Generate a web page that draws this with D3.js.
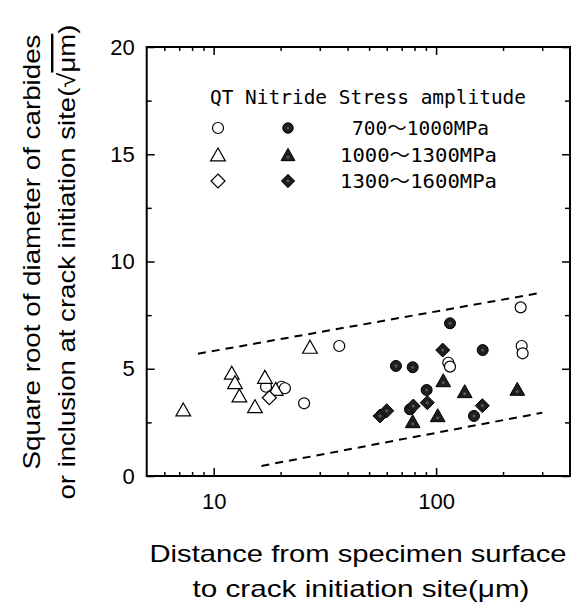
<!DOCTYPE html>
<html><head><meta charset="utf-8">
<script src="https://cdn.jsdelivr.net/npm/d3@7"></script>
<style>body{margin:0;background:#fff}svg{display:block}</style>
</head><body><svg id="c" width="584" height="612"></svg>
<script>
// ---- data ----
const qtCircle = [[17.2,4.16],[20.2,4.16],[20.9,4.09],[25.5,3.39],[36.7,6.06],[113.5,5.28],[115.5,5.1],[240,7.86],[242.6,6.06],[245,5.72]];
const qtTriangle = [[7.3,3.08],[12.06,4.79],[12.47,4.35],[13.05,3.73],[15.34,3.23],[17.0,4.6],[19.0,4.04],[27.1,6.0]];
const qtDiamond = [[17.8,3.65]];
const nitCircle = [[66,5.13],[78.5,5.07],[90.7,4.01],[115.5,7.12],[162,5.87],[76.3,3.11],[148,2.8]];
const nitTriangle = [[78.5,2.53],[101.7,2.81],[107.7,4.44],[134.5,3.93],[231.8,4.04]];
const nitDiamond = [[56,2.8],[60,3.04],[79,3.26],[91.3,3.42],[107.1,5.87],[161.4,3.28]];
const upperBound = [[8.5,5.7],[300,8.55]];
const lowerBound = [[16.4,0.47],[300,2.95]];
const xMajor = [10,100];
const xMinor = [6,7,8,9,20,30,40,50,60,70,80,90,200,300];
const yMajor = [0,5,10,15,20];
const yMinor = [2.5,7.5,12.5,17.5];
const legendRanges = ["700～1000MPa","1000～1300MPa","1300～1600MPa"];

const svg = d3.select("#c");
const L=146.7, R=570, T=47, B=476;
const x = d3.scaleLog().domain([5,400]).range([L,R]);
const y = d3.scaleLinear().domain([0,20]).range([B,T]);

// dashed bounds
const line = d3.line().x(d=>x(d[0])).y(d=>y(d[1]));
[upperBound,lowerBound].forEach(b=>{
  svg.append("path").attr("d",line(b)).attr("fill","none").attr("stroke","#000")
    .attr("stroke-width",2).attr("stroke-dasharray","8,6");
});

// axes (inward ticks)
const gB = svg.append("g").attr("transform",`translate(0,${B})`);
gB.call(d3.axisBottom(x).tickValues(xMajor).tickFormat(d3.format("d")).tickSizeInner(-8).tickSizeOuter(0).tickPadding(17));
const gBm = svg.append("g").attr("transform",`translate(0,${B})`);
gBm.call(d3.axisBottom(x).tickValues(xMinor).tickFormat("").tickSizeInner(-4).tickSizeOuter(0));
const gT = svg.append("g").attr("transform",`translate(0,${T})`);
gT.call(d3.axisTop(x).tickValues(xMajor).tickFormat("").tickSizeInner(-8).tickSizeOuter(0));
const gTm = svg.append("g").attr("transform",`translate(0,${T})`);
gTm.call(d3.axisTop(x).tickValues(xMinor).tickFormat("").tickSizeInner(-4).tickSizeOuter(0));
const gL = svg.append("g").attr("transform",`translate(${L},0)`);
gL.call(d3.axisLeft(y).tickValues(yMajor).tickSizeInner(-8).tickSizeOuter(0).tickPadding(12));
const gLm = svg.append("g").attr("transform",`translate(${L},0)`);
gLm.call(d3.axisLeft(y).tickValues(yMinor).tickFormat("").tickSizeInner(-5).tickSizeOuter(0));
const gR = svg.append("g").attr("transform",`translate(${R},0)`);
gR.call(d3.axisRight(y).tickValues(yMajor).tickFormat("").tickSizeInner(-8).tickSizeOuter(0));
const gRm = svg.append("g").attr("transform",`translate(${R},0)`);
gRm.call(d3.axisRight(y).tickValues(yMinor).tickFormat("").tickSizeInner(-5).tickSizeOuter(0));
svg.selectAll(".domain").remove();
svg.selectAll(".tick line").attr("stroke","#000").attr("stroke-width",1.5);
svg.selectAll(".tick text").attr("font-family","Liberation Sans, Arial, sans-serif").attr("font-size",22).attr("fill","#000");
svg.append("rect").attr("x",L).attr("y",T).attr("width",R-L).attr("height",B-T)
  .attr("fill","none").attr("stroke","#000").attr("stroke-width",2);

// markers
function shape(g, type, cx, cy, filled, s){
  s = s||1;
  let el;
  if(type==="c"){
    el = g.append("circle").attr("cx",cx).attr("cy",cy).attr("r",5.5*s);
  } else if(type==="t"){
    const h=7*s;
    el = g.append("path").attr("d",`M${cx},${cy-h}L${cx+h*1.05},${cy+h*0.85}L${cx-h*1.05},${cy+h*0.85}Z`);
  } else {
    const h=7*s;
    el = g.append("path").attr("d",`M${cx},${cy-h}L${cx+h},${cy}L${cx},${cy+h}L${cx-h},${cy}Z`);
  }
  el.attr("fill",filled?"#1e1e1e":"#fff").attr("stroke","#000").attr("stroke-width",filled?1:1.2);
  if(filled){
    g.append("circle").attr("cx",cx).attr("cy",cy+(type==="t"?2:0)).attr("r",1.6*s).attr("fill","#555");
  }
}
const gp = svg.append("g");
[[qtCircle,"c",false],[qtTriangle,"t",false],[qtDiamond,"d",false],
 [nitCircle,"c",true],[nitTriangle,"t",true],[nitDiamond,"d",true]].forEach(([arr,t,f])=>{
  arr.forEach(d=>shape(gp,t,x(d[0]),y(d[1]),f));
});

// legend
const mono = "DejaVu Sans Mono, Noto Sans CJK JP, monospace";
svg.append("text").attr("x",210).attr("y",104).attr("font-family",mono).attr("font-size",19)
  .attr("textLength",316).attr("lengthAdjust","spacingAndGlyphs").text("QT Nitride Stress amplitude");
const rowsY=[128,155,181];
const types=["c","t","d"];
legendRanges.forEach((t,i)=>{
  shape(svg,types[i],218,rowsY[i],false);
  shape(svg,types[i],288,rowsY[i],true,0.95);
  const x0 = i===0?352:340, w = i===0?137:157;
  svg.append("text").attr("x",x0).attr("y",rowsY[i]+7).attr("font-family",mono).attr("font-size",19)
    .attr("textLength",w).attr("lengthAdjust","spacingAndGlyphs").text(t);
});

// axis titles
const sans="Liberation Sans, Arial, sans-serif";
svg.append("text").attr("x",358).attr("y",562).attr("text-anchor","middle").attr("font-family",sans)
  .attr("font-size",24).attr("textLength",417).attr("lengthAdjust","spacingAndGlyphs").text("Distance from specimen surface");
svg.append("text").attr("x",361).attr("y",597).attr("text-anchor","middle").attr("font-family",sans)
  .attr("font-size",24).attr("textLength",337).attr("lengthAdjust","spacingAndGlyphs").text("to crack initiation site(μm)");

svg.append("text").attr("transform","translate(40,252) rotate(-90)").attr("text-anchor","middle")
  .attr("font-family",sans).attr("font-size",24).attr("textLength",435).attr("lengthAdjust","spacingAndGlyphs")
  .text("Square root of diameter of carbides");
const t2 = svg.append("text").attr("transform","translate(75,262) rotate(-90)").attr("text-anchor","middle")
  .attr("font-family",sans).attr("font-size",24).attr("textLength",475).attr("lengthAdjust","spacingAndGlyphs");
t2.append("tspan").text("or inclusion at crack initiation site(√");
t2.append("tspan").attr("text-decoration","overline").style("text-decoration","overline").text("μm");
t2.append("tspan").text(")");
</script></body></html>
